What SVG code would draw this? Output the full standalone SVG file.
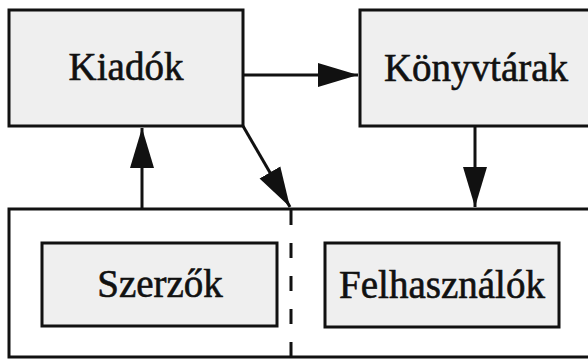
<svg xmlns="http://www.w3.org/2000/svg" width="588" height="359" viewBox="0 0 588 359">
<defs>
<style>
.box{fill:#efefef;stroke:#111;stroke-width:3}
.outer{fill:#ffffff;stroke:#111;stroke-width:3}
.lbl{font-family:"Liberation Serif","Times New Roman",serif;font-size:39px;fill:#111;stroke:#111;stroke-width:0.6;text-anchor:middle}
.conn{fill:none;stroke:#111;stroke-width:3}
.dash{fill:none;stroke:#111;stroke-width:3;stroke-dasharray:15,18}
</style>
<marker id="ah" markerUnits="userSpaceOnUse" markerWidth="42" markerHeight="26" refX="40" refY="13" orient="auto">
<path d="M0,1 L40,13 L0,25 Z" fill="#111"/>
</marker>
</defs>
<rect width="588" height="359" fill="#ffffff"/>
<g id="felhasznalok-kornyezet">
<rect class="outer" x="9" y="209" width="590" height="148"/>
</g>
<g id="connectors">
<path class="dash" d="M291,210 V359"/>
<path class="conn" d="M243,75 H358" marker-end="url(#ah)"/>
<path class="conn" d="M142,209 V128" marker-end="url(#ah)"/>
<path class="conn" d="M243,126 L290,207" marker-end="url(#ah)"/>
<path class="conn" d="M475,126 V207" marker-end="url(#ah)"/>
</g>
<g id="kiadok">
<rect class="box" x="9" y="10" width="234" height="116"/>
<text class="lbl" x="126" y="80">Kiadók</text>
</g>
<g id="konyvtarak">
<rect class="box" x="360" y="10" width="240" height="116"/>
<text class="lbl" x="476" y="81">Könyvtárak</text>
</g>
<g id="szerzok">
<rect class="box" x="42" y="243" width="235" height="83"/>
<text class="lbl" x="160" y="297">Szerzők</text>
</g>
<g id="felhasznalok">
<rect class="box" x="325" y="243" width="234" height="84"/>
<text class="lbl" x="442" y="298">Felhasználók</text>
</g>
</svg>
